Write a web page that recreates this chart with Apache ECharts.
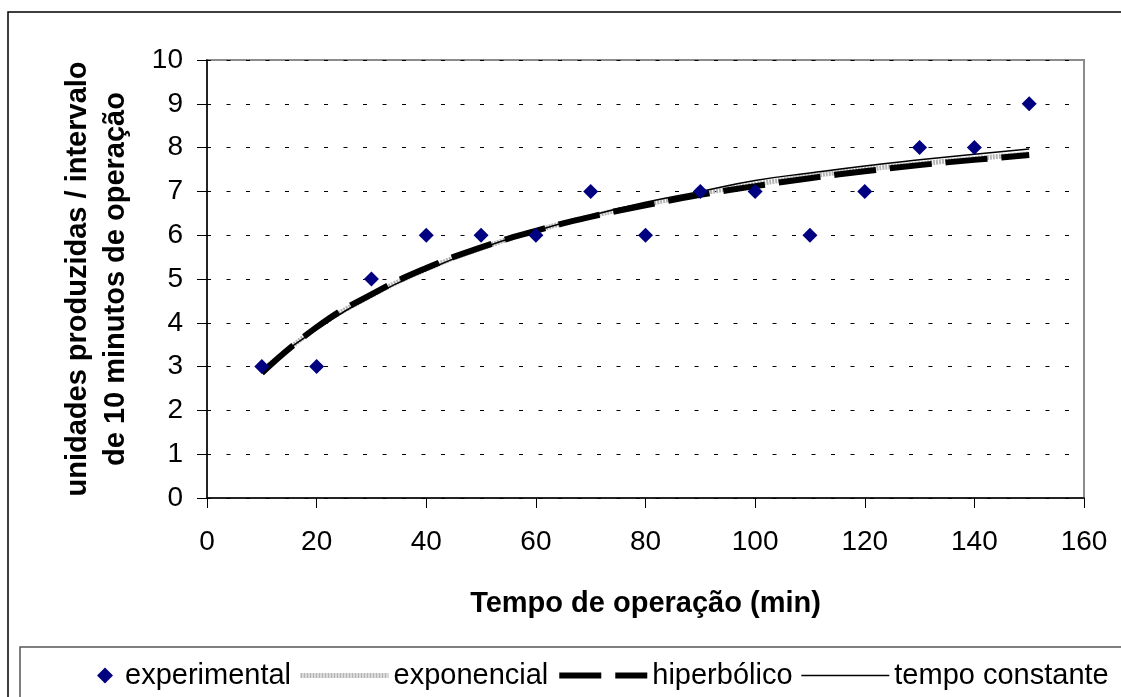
<!DOCTYPE html>
<html>
<head>
<meta charset="utf-8">
<script src="https://cdn.jsdelivr.net/npm/echarts@6/dist/echarts.min.js"></script>
<style>
  html, body { margin: 0; padding: 0; background: #fff; }
  #mainChart { width: 1121px; height: 697px; }
</style>
</head>
<body>
<div id="mainChart"></div>
<script>
// dados
var tempos = [10, 20, 30, 40, 50, 60, 70, 80, 90, 100, 110, 120, 130, 140, 150];
var experimental = [3, 3, 5, 6, 6, 6, 7, 6, 7, 7, 6, 7, 8, 8, 9];
var exponencial = [2.9, 3.88, 4.62, 5.22, 5.7, 6.1, 6.43, 6.7, 6.95, 7.16, 7.35, 7.5, 7.63, 7.75, 7.86];
var hiperbolico = [2.85, 3.9, 4.65, 5.25, 5.72, 6.1, 6.42, 6.68, 6.92, 7.12, 7.3, 7.46, 7.6, 7.72, 7.83];
var tempoConstante = [2.95, 3.85, 4.6, 5.2, 5.7, 6.1, 6.45, 6.75, 7.0, 7.25, 7.42, 7.58, 7.72, 7.85, 7.97];

function pares(ys) {
    return tempos.map(function (t, i) { return [t, ys[i]]; });
}

var fonte = '"Liberation Sans", Arial, sans-serif';
var myChart = echarts.init(document.getElementById('mainChart'), null, { renderer: 'canvas' });

// estilos das linhas (usados nas séries e na legenda)
var estiloExp = { color: '#b4b4b4', width: 5, type: [2, 1] };
var estiloHip = { color: '#000', width: 6, type: [42, 14] };
var estiloCte = { color: '#000', width: 1.5, type: 'solid' };

var option = {
    animation: false,
    backgroundColor: '#fff',
    textStyle: { fontFamily: fonte, color: '#000' },
    grid: {
        left: 207,
        right: 37,
        top: 60,
        bottom: 199,
        show: true,
        borderColor: '#8c8c8c',
        borderWidth: 2
    },
    xAxis: {
        type: 'value',
        min: 0,
        max: 160,
        interval: 20,
        name: 'Tempo de operação (min)',
        nameLocation: 'middle',
        nameGap: 91,
        nameTextStyle: { fontSize: 29, fontWeight: 'bold', fontFamily: fonte, color: '#000' },
        axisLine: { onZero: false, lineStyle: { color: '#000', width: 1.5 } },
        axisTick: { show: true, length: 10, lineStyle: { color: '#000' } },
        axisLabel: { fontSize: 28, margin: 30, color: '#000', fontFamily: fonte },
        splitLine: { show: false }
    },
    yAxis: {
        type: 'value',
        min: 0,
        max: 10,
        interval: 1,
        name: 'unidades produzidas / intervalo\nde 10 minutos de operação',
        nameLocation: 'middle',
        nameGap: 72,
        nameTextStyle: { fontSize: 29, fontWeight: 'bold', fontFamily: fonte, color: '#000', lineHeight: 38 },
        axisLine: { lineStyle: { color: '#000', width: 1.5 } },
        axisTick: { show: true, length: 10, lineStyle: { color: '#000' } },
        axisLabel: { fontSize: 28, margin: 24, color: '#000', fontFamily: fonte },
        splitLine: { show: true, lineStyle: { color: '#000', width: 1, type: [4, 15.5] } }
    },
    legend: [{
        left: 92,
        top: 656,
        itemWidth: 16,
        itemHeight: 16,
        data: [{ name: 'experimental', icon: 'diamond', itemStyle: { color: '#000080', opacity: 1 } }],
        textStyle: { fontSize: 29, fontFamily: fonte, color: '#000', padding: [0, 0, 0, 7] }
    }, {
        left: 293,
        top: 656,
        width: 1000,
        itemWidth: 88,
        itemHeight: 14,
        itemGap: 8,
        data: [
            { name: 'exponencial', lineStyle: estiloExp, itemStyle: { opacity: 0 } },
            { name: 'hiperbólico', lineStyle: estiloHip, itemStyle: { opacity: 0 } },
            { name: 'tempo constante', lineStyle: estiloCte, itemStyle: { opacity: 0 } }
        ],
        textStyle: { fontSize: 29, fontFamily: fonte, color: '#000' }
    }],
    graphic: [{
        type: 'rect',
        shape: { x: 8, y: 12, width: 1200, height: 800 },
        style: { fill: 'none', stroke: '#000', lineWidth: 1.5 },
        silent: true
    }, {
        type: 'rect',
        shape: { x: 20, y: 647, width: 1200, height: 100 },
        style: { fill: 'none', stroke: '#555', lineWidth: 1.5 },
        silent: true
    }],
    series: [{
        name: 'exponencial',
        type: 'line',
        data: pares(exponencial),
        symbol: 'none',
        smooth: true,
        color: '#b4b4b4',
        lineStyle: estiloExp,
        z: 2
    }, {
        name: 'hiperbólico',
        type: 'line',
        data: pares(hiperbolico),
        symbol: 'none',
        smooth: true,
        color: '#000',
        lineStyle: estiloHip,
        z: 3
    }, {
        name: 'tempo constante',
        type: 'line',
        data: pares(tempoConstante),
        symbol: 'none',
        smooth: true,
        color: '#000',
        lineStyle: estiloCte,
        z: 4
    }, {
        name: 'experimental',
        type: 'scatter',
        data: pares(experimental),
        symbol: 'diamond',
        symbolSize: 15,
        itemStyle: { color: '#000080', opacity: 1 },
        z: 5
    }]
};

myChart.setOption(option);
</script>
</body>
</html>
